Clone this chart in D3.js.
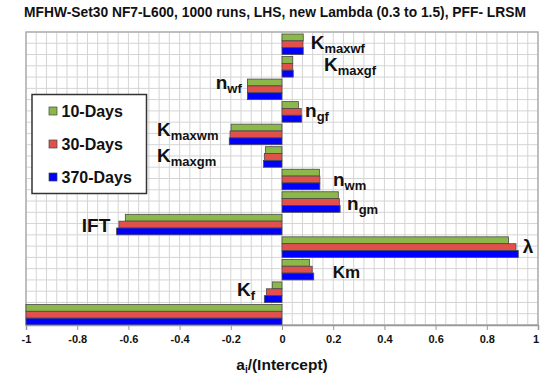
<!DOCTYPE html>
<html>
<head>
<meta charset="utf-8">
<script src="https://cdn.jsdelivr.net/npm/d3@7"></script>
<style>
  html, body { margin: 0; padding: 0; background: #fff; }
  svg { display: block; font-family: "Liberation Sans", Arial, sans-serif; font-weight: bold; }
</style>
</head>
<body>
<svg id="chart" width="540" height="381"></svg>
<script>
// ---- data ----
const categories = ["Kmaxwf", "Kmaxgf", "nwf", "ngf", "Kmaxwm", "Kmaxgm", "nwm", "ngm", "IFT", "lambda", "Km", "Kf", "Intercept"];
const labelMain = ["K", "K", "n", "n", "K", "K", "n", "n", "IFT", "λ", "Km", "K", ""];
const labelSub  = ["maxwf", "maxgf", "wf", "gf", "maxwm", "maxgm", "wm", "gm", "", "", "", "f", ""];
const seriesNames = ["10-Days", "30-Days", "370-Days"];
const days10  = [0.083, 0.042, -0.135, 0.064, -0.199, -0.065, 0.146, 0.220, -0.612, 0.885, 0.107, -0.038, -1];
const days30  = [0.082, 0.042, -0.135, 0.075, -0.203, -0.069, 0.148, 0.224, -0.637, 0.914, 0.118, -0.061, -1];
const days370 = [0.083, 0.044, -0.135, 0.077, -0.206, -0.072, 0.148, 0.227, -0.646, 0.923, 0.124, -0.069, -1];
const xTicks = [-1, -0.8, -0.6, -0.4, -0.2, 0, 0.2, 0.4, 0.6, 0.8, 1];
const titleText = "MFHW-Set30 NF7-L600, 1000 runs, LHS, new Lambda (0.3 to 1.5), PFF- LRSM";

// ---- layout (not data) ----
const colors = ["#8cb84a", "#e2504c", "#0000ff"];
// label anchor: x in axis units, baseline offset from band top (px)
const labelX  = [0.112, 0.164, -0.259, 0.09, -0.488, -0.488, 0.199, 0.254, -0.782, 0.94, 0.198, -0.176, 0];
const labelDy = [17, 16.5, 12, 17, 14, 17, 19, 20, 20, 18, 20.6, 16, 0];

const svg = d3.select("#chart");
const m = { left: 26, right: 538, top: 32, bottom: 325 };

const x = d3.scaleLinear().domain([-1, 1]).range([m.left, m.right]);
const y = d3.scaleBand().domain(categories).range([m.top, m.bottom]).paddingInner(0).paddingOuter(0);
const bh = (y.bandwidth() - 2) / 3;

// grid
const g = svg.append("g");
const vgrid = d3.range(0, 51).map(i => -1 + i * 0.04);
g.selectAll("line.v").data(vgrid).join("line")
  .attr("x1", d => x(d)).attr("x2", d => x(d))
  .attr("y1", m.top).attr("y2", m.bottom)
  .attr("stroke", "#d4d4d4").attr("stroke-width", 1);
const hgrid = d3.range(0, 27).map(i => m.top + i * y.bandwidth() / 2);
g.selectAll("line.h").data(hgrid).join("line")
  .attr("x1", m.left).attr("x2", m.right)
  .attr("y1", d => d).attr("y2", d => d)
  .attr("stroke", "#d4d4d4").attr("stroke-width", 1);
// border
g.append("rect").attr("x", m.left).attr("y", m.top)
  .attr("width", m.right - m.left).attr("height", m.bottom - m.top)
  .attr("fill", "none").attr("stroke", "#b0b0b0").attr("stroke-width", 1.5);

// bars
const series = [days10, days30, days370];
series.forEach((vals, si) => {
  svg.append("g").selectAll("rect").data(vals).join("rect")
    .attr("x", d => x(Math.min(0, d)))
    .attr("width", d => Math.abs(x(d) - x(0)))
    .attr("y", (d, i) => y(categories[i]) + 2 + si * bh)
    .attr("height", bh)
    .attr("fill", colors[si])
    .attr("stroke", "#4a4a4a").attr("stroke-width", 0.8);
});

// x axis
const axis = d3.axisBottom(x).tickValues(xTicks).tickSize(5)
  .tickFormat(d => d === 0 ? "0" : String(d));
const ax = svg.append("g").attr("transform", `translate(0,${m.bottom})`).call(axis);
ax.select(".domain").attr("stroke", "#999").attr("stroke-width", 1.5);
ax.selectAll(".tick line").attr("stroke", "#999");
ax.selectAll(".tick text").attr("font-size", 11).attr("font-weight", "bold")
  .attr("font-family", "Liberation Sans, Arial, sans-serif").attr("fill", "#111").attr("dy", "0.95em")
  .attr("dx", d => d === 1 ? -2.5 : 0);

// axis title
const at = svg.append("text").attr("x", x(0)).attr("y", 370).attr("text-anchor", "middle")
  .attr("font-size", 15.5).attr("fill", "#111");
at.append("tspan").text("a");
at.append("tspan").attr("font-size", 10).attr("dy", 3).text("i");
at.append("tspan").attr("dy", -3).text("/(Intercept)");

// title
svg.append("text").attr("x", 275).attr("y", 17).attr("text-anchor", "middle")
  .attr("font-size", 13.8).attr("fill", "#111").text(titleText);

// category labels
categories.forEach((c, i) => {
  if (!labelMain[i]) return;
  const t = svg.append("text").attr("x", x(labelX[i])).attr("y", y(c) + labelDy[i])
    .attr("fill", "#111").attr("font-size", labelMain[i] === "Km" ? 17 : 19);
  t.append("tspan").text(labelMain[i]);
  if (labelSub[i]) t.append("tspan").attr("font-size", 13).attr("dy", 4).text(labelSub[i]);
});

// legend
const lg = svg.append("g");
lg.append("rect").attr("x", 32).attr("y", 94.5).attr("width", 114.5).attr("height", 99)
  .attr("fill", "#fff").attr("stroke", "#333").attr("stroke-width", 1.5);
seriesNames.forEach((s, i) => {
  const cy = 111 + i * 33;
  lg.append("rect").attr("x", 49).attr("y", cy - 4).attr("width", 8).attr("height", 8)
    .attr("fill", colors[i]).attr("stroke", "#444").attr("stroke-width", 0.7);
  lg.append("text").attr("x", 61.5).attr("y", cy + 6).attr("font-size", 16).attr("fill", "#111").text(s);
});
</script>
</body>
</html>
